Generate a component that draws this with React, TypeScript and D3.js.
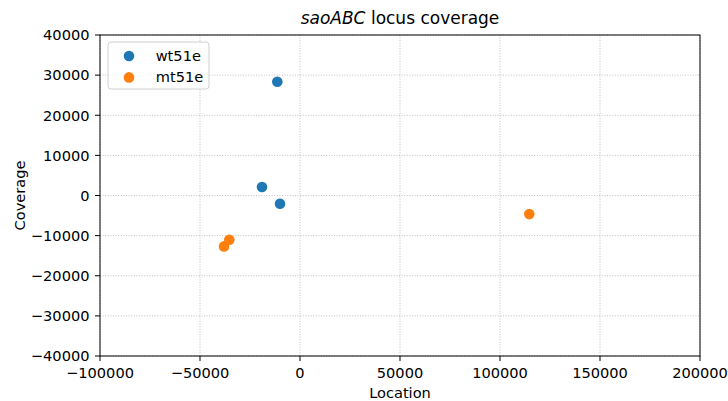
import React from "react";
import * as d3 from "d3";

const wtX = [-11350, -19000, -10000];
const wtY = [28350, 2100, -2070];
const mtX = [-38000, -35350, 114650];
const mtY = [-12690, -11020, -4630];
const xTicks = [-100000, -50000, 0, 50000, 100000, 150000, 200000];
const yTicks = [-40000, -30000, -20000, -10000, 0, 10000, 20000, 30000, 40000];

const series = [
  { label: "wt51e", color: "#1f77b4", xs: wtX, ys: wtY },
  { label: "mt51e", color: "#ff7f0e", xs: mtX, ys: mtY },
];

const W = 728;
const H = 401;
const margin = { top: 35, right: 28, bottom: 45, left: 100 };
const font = "'DejaVu Sans', sans-serif";
const fs = 14.6;

const fmt = (v: number) => (v < 0 ? "\u2212" + Math.abs(v) : String(v));

const App = () => {
  const x = d3
    .scaleLinear()
    .domain([-100000, 200000])
    .range([margin.left, W - margin.right]);
  const y = d3
    .scaleLinear()
    .domain([-40000, 40000])
    .range([H - margin.bottom, margin.top]);

  const [x0, x1] = x.range();
  const [y0, y1] = y.range();

  return (
    <svg
      width={W}
      height={H}
      style={{ position: "absolute", left: 0, top: 0, background: "#fff" }}
      fontFamily={font}
    >
      {/* grid */}
      {xTicks.map((t) => (
        <line
          key={"gx" + t}
          x1={x(t)}
          x2={x(t)}
          y1={y1}
          y2={y0}
          stroke="#b0b0b0"
          strokeWidth={0.8}
          strokeDasharray="1,1.6"
        />
      ))}
      {yTicks.map((t) => (
        <line
          key={"gy" + t}
          x1={x0}
          x2={x1}
          y1={y(t)}
          y2={y(t)}
          stroke="#b0b0b0"
          strokeWidth={0.8}
          strokeDasharray="1,1.6"
        />
      ))}

      {/* points */}
      {series.map((s) =>
        s.xs.map((v, i) => (
          <circle
            key={s.label + i}
            cx={x(v)}
            cy={y(s.ys[i])}
            r={5.3}
            fill={s.color}
          />
        ))
      )}

      {/* frame */}
      <rect
        x={x0}
        y={y1}
        width={x1 - x0}
        height={y0 - y1}
        fill="none"
        stroke="#000"
        strokeWidth={1}
      />

      {/* x ticks */}
      {xTicks.map((t) => (
        <g key={"tx" + t} transform={`translate(${x(t)},${y0})`}>
          <line y1={0} y2={5} stroke="#000" strokeWidth={1} />
          <text y={22.3} textAnchor="middle" fontSize={fs} fill="#000">
            {fmt(t)}
          </text>
        </g>
      ))}
      {/* y ticks */}
      {yTicks.map((t) => (
        <g key={"ty" + t} transform={`translate(${x0},${y(t)})`}>
          <line x1={0} x2={-5} stroke="#000" strokeWidth={1} />
          <text x={-10.5} dy="0.36em" textAnchor="end" fontSize={fs} fill="#000">
            {fmt(t)}
          </text>
        </g>
      ))}

      {/* labels */}
      <text
        x={(x0 + x1) / 2}
        y={397.5}
        textAnchor="middle"
        fontSize={fs}
        fill="#000"
      >
        Location
      </text>
      <text
        transform={`translate(24.5,${(y0 + y1) / 2}) rotate(-90)`}
        textAnchor="middle"
        fontSize={fs}
        fill="#000"
      >
        Coverage
      </text>
      <text
        x={(x0 + x1) / 2}
        y={23.5}
        textAnchor="middle"
        fontSize={17}
        fill="#000"
      >
        <tspan fontStyle="italic">saoABC</tspan> locus coverage
      </text>

      {/* legend */}
      <rect
        x={108}
        y={42}
        width={101}
        height={47}
        rx={3}
        fill="#fff"
        fillOpacity={0.8}
        stroke="#d0d0d0"
        strokeWidth={1}
      />
      {series.map((s, i) => (
        <g key={"lg" + s.label} transform={`translate(129,${56 + i * 21.4})`}>
          <circle r={5.3} fill={s.color} />
          <text x={26.7} dy="0.33em" fontSize={fs} fill="#000">
            {s.label}
          </text>
        </g>
      ))}
    </svg>
  );
};

export default App;
